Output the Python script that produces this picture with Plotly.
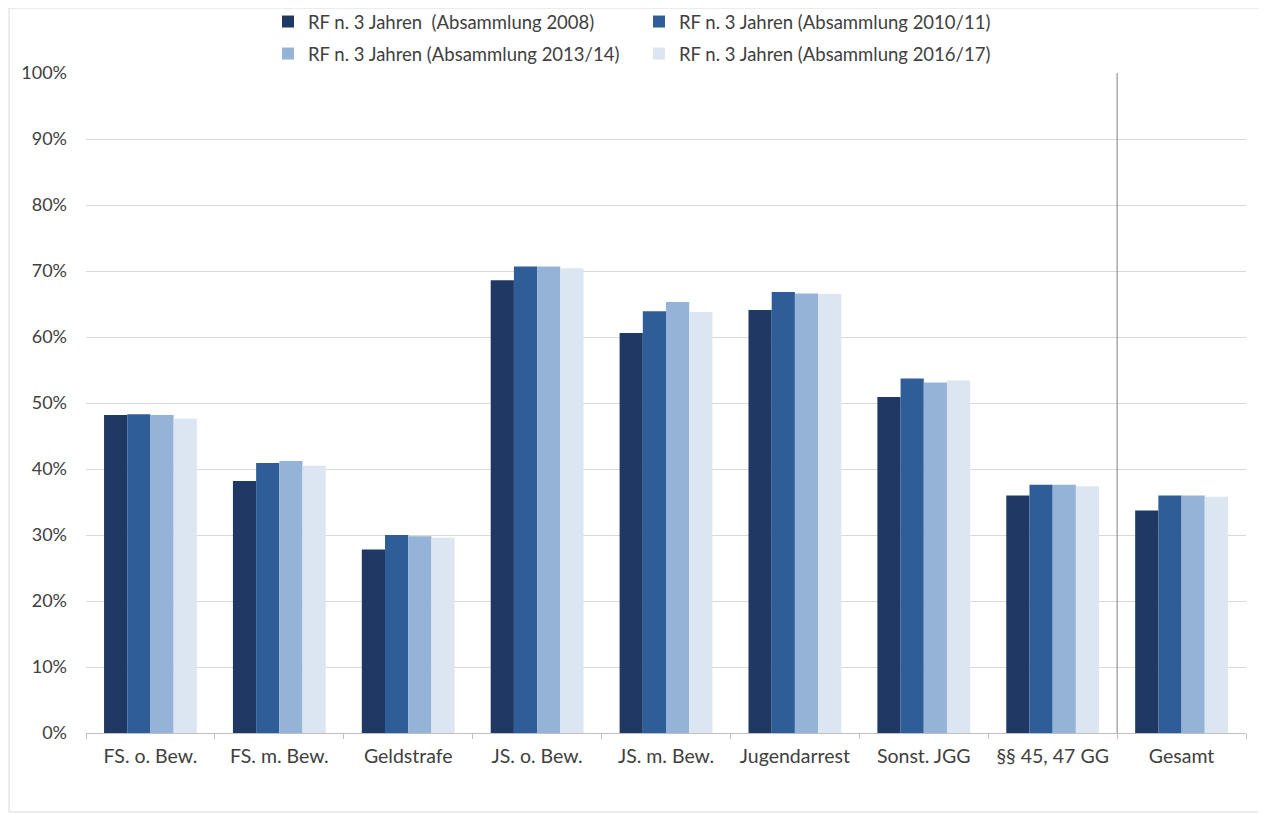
import plotly.graph_objects as go

categories = ["FS. o. Bew.", "FS. m. Bew.", "Geldstrafe", "JS. o. Bew.", "JS. m. Bew.",
              "Jugendarrest", "Sonst. JGG", "§§ 45, 47 GG", "Gesamt"]
series_names = ["RF n. 3 Jahren  (Absammlung 2008)", "RF n. 3 Jahren (Absammlung 2010/11)",
                "RF n. 3 Jahren (Absammlung 2013/14)", "RF n. 3 Jahren (Absammlung 2016/17)"]
v2008 = [0.482, 0.382, 0.278, 0.686, 0.606, 0.641, 0.509, 0.360, 0.337]
v2010 = [0.483, 0.409, 0.300, 0.707, 0.639, 0.668, 0.537, 0.376, 0.360]
v2013 = [0.482, 0.412, 0.298, 0.707, 0.653, 0.666, 0.531, 0.376, 0.360]
v2016 = [0.476, 0.405, 0.296, 0.704, 0.638, 0.665, 0.534, 0.374, 0.358]
y_ticks = [0, 0.1, 0.2, 0.3, 0.4, 0.5, 0.6, 0.7, 0.8, 0.9, 1.0]

colors = ["#1F3864", "#2E5D97", "#95B3D7", "#DCE6F2"]
values = [v2008, v2010, v2013, v2016]
legends = ["legend", "legend", "legend2", "legend2"]

fig = go.Figure()
for name, vals, col, lg in zip(series_names, values, colors, legends):
    fig.add_trace(go.Bar(x=categories, y=vals, name=name, marker_color=col,
                         marker_line_width=0, legend=lg))

font_family = "Lato, 'Open Sans', sans-serif"
W, H = 1266, 814
OFF = 8  # page body margin
ml, mr, mt, mb = 78, 28, 65, 89
pw = W - ml - mr
ph = H - mt - mb

def px_x(px):
    return (px - OFF - ml) / pw

def px_y(py):
    return 1 + (mt - (py - OFF)) / ph

def cx(px):
    return (px - OFF) / W

def cy(py):
    return 1 - (py - OFF) / H

legend_common = dict(orientation="h", xanchor="left", yanchor="middle",
                     xref="container", yref="container",
                     font=dict(family=font_family, size=18.5, color="#404040"),
                     itemwidth=30, entrywidth=326, bgcolor="rgba(0,0,0,0)",
                     traceorder="normal")

fig.update_layout(
    width=W, height=H,
    margin=dict(l=ml, r=mr, t=mt, b=mb, autoexpand=False),
    paper_bgcolor="white", plot_bgcolor="white",
    barmode="group", bargap=0.28, bargroupgap=0,
    font=dict(family=font_family, size=16, color="#404040"),
    legend=dict(x=cx(268), y=cy(22), **legend_common),
    legend2=dict(x=cx(268), y=cy(54), **legend_common),
    xaxis=dict(showline=True, linecolor="#BFBFBF", linewidth=1,
               ticks="outside", tickson="boundaries", ticklen=5, tickcolor="#BFBFBF",
               tickfont=dict(family=font_family, size=19.5, color="#404040"),
               ticklabelstandoff=6, showgrid=False),
    yaxis=dict(range=[0, 1], tickvals=y_ticks, tickformat=".0%",
               showgrid=True, gridcolor="#D9D9D9", gridwidth=1,
               zeroline=False, showline=False,
               tickfont=dict(family=font_family, size=18, color="#404040"),
               ticks="", ticklabelstandoff=18),
    shapes=[
        dict(type="line", xref="x", yref="y", x0=7.5, x1=7.5, y0=0, y1=1,
             line=dict(color="#808080", width=1)),
        dict(type="rect", xref="paper", yref="paper",
             x0=px_x(9), x1=px_x(1264), y0=px_y(8), y1=px_y(812),
             line=dict(color="#D9D9D9", width=1), layer="below"),
    ],
)

fig.write_html("out.html")
